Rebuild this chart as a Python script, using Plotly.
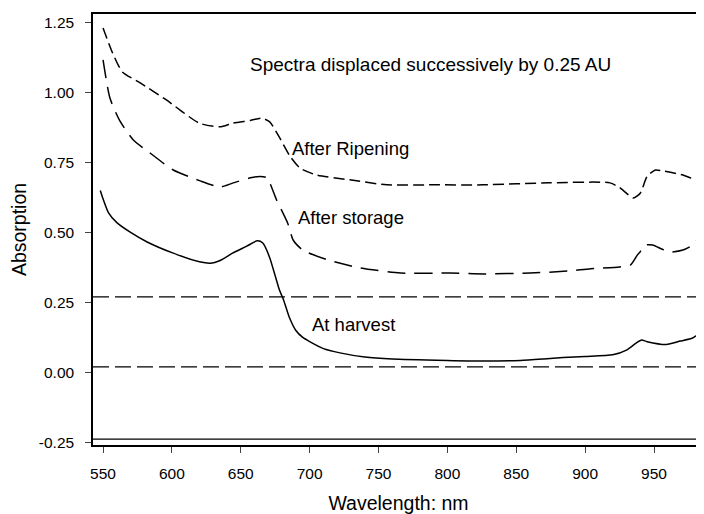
import plotly.graph_objects as go

# ---- data ----
harvest_nm = [548, 550, 554, 560, 570, 582, 601, 620, 628, 635, 644, 654, 662, 666, 671, 678, 681, 685, 690, 695, 700,
              710, 722, 740, 760, 800, 824, 853, 870, 884, 900, 920, 930, 937, 941, 945, 959, 969, 978, 983, 986]
harvest_ab = [0.65, 0.62, 0.57, 0.535, 0.50, 0.466, 0.426, 0.395, 0.39, 0.40, 0.426, 0.45, 0.47, 0.462, 0.41, 0.295,
              0.26, 0.20, 0.15, 0.125, 0.11, 0.085, 0.07, 0.055, 0.048, 0.043, 0.041, 0.043, 0.048, 0.053, 0.057, 0.063,
              0.08, 0.105, 0.116, 0.11, 0.10, 0.112, 0.123, 0.14, 0.152]

storage_nm = [550, 555, 562, 572, 584, 601, 620, 635, 644, 657, 664, 669, 676, 684, 688, 695, 713, 737, 766, 802, 826,
              860, 887, 904, 925, 933, 938, 941, 944, 949, 956, 962, 971, 978, 983, 986]
storage_ab = [1.116, 0.98, 0.90, 0.83, 0.784, 0.723, 0.685, 0.662, 0.676, 0.695, 0.70, 0.695, 0.616, 0.534, 0.473,
              0.437, 0.402, 0.373, 0.355, 0.355, 0.352, 0.355, 0.362, 0.37, 0.377, 0.384, 0.42, 0.437, 0.455, 0.455,
              0.44, 0.43, 0.437, 0.455, 0.484, 0.50]

ripening_nm = [550, 557, 564, 577, 596, 620, 635, 644, 657, 665, 671, 678, 686, 693, 705, 729, 756, 790, 826, 874, 918,
               925, 935, 940, 945, 951, 956, 971, 981, 986]
ripening_ab = [1.23, 1.14, 1.073, 1.034, 0.973, 0.89, 0.877, 0.89, 0.90, 0.908, 0.895, 0.84, 0.77, 0.73, 0.705, 0.688,
               0.67, 0.67, 0.67, 0.677, 0.677, 0.66, 0.623, 0.64, 0.70, 0.723, 0.72, 0.705, 0.688, 0.698]

baseline_levels = [0.02, 0.27]
bottom_level = [-0.238]

x_range = [542.7, 986.3]
y_range = [-0.259, 1.28]
y_ticks = [-0.25, 0.0, 0.25, 0.5, 0.75, 1.0, 1.25]
y_tick_text = ["-0.25", "0.00", "0.25", "0.50", "0.75", "1.00", "1.25"]
x_ticks = [550, 600, 650, 700, 750, 800, 850, 900, 950]

series_labels = ["After Ripening", "After storage", "At harvest"]
label_pos_nm = [686, 690, 700]
label_pos_ab = [0.80, 0.552, 0.17]
note_text = "Spectra displaced successively by 0.25 AU"

FONT = "Liberation Sans, Arial, Helvetica, sans-serif"

fig = go.Figure()

for lv in baseline_levels:
    fig.add_trace(go.Scatter(x=x_range, y=[lv, lv], mode="lines",
                             line=dict(color="black", width=1.3, dash="16px,6px"), hoverinfo="skip"))
for lv in bottom_level:
    fig.add_trace(go.Scatter(x=x_range, y=[lv, lv], mode="lines",
                             line=dict(color="black", width=1.3), hoverinfo="skip"))

fig.add_trace(go.Scatter(x=harvest_nm, y=harvest_ab, mode="lines", line_shape="spline",
                         line=dict(color="black", width=1.5, smoothing=0.6)))
fig.add_trace(go.Scatter(x=storage_nm, y=storage_ab, mode="lines", line_shape="spline",
                         line=dict(color="black", width=1.5, dash="18px,9px", smoothing=0.6)))
fig.add_trace(go.Scatter(x=ripening_nm, y=ripening_ab, mode="lines", line_shape="spline",
                         line=dict(color="black", width=1.5, dash="11px,5px", smoothing=0.6)))

for txt, xn, ya in zip(series_labels, label_pos_nm, label_pos_ab):
    fig.add_annotation(x=xn, y=ya, text=txt, showarrow=False, xanchor="left", yanchor="middle",
                       font=dict(family=FONT, size=18.5, color="black"))

fig.add_annotation(x=655, y=1.098, text=note_text, showarrow=False, xanchor="left", yanchor="middle",
                   font=dict(family=FONT, size=19, color="black"))

# page body has an 8px margin; the figure is sized so that it fills the 704x514 window
fig.update_layout(
    width=696, height=506,
    margin=dict(l=85, r=0, t=6, b=69),
    paper_bgcolor="white", plot_bgcolor="white",
    showlegend=False,
    font=dict(family=FONT, color="black"),
)
fig.update_xaxes(range=x_range, tickvals=x_ticks, ticks="outside", ticklen=6, tickwidth=1.2, automargin=False,
                 showline=True, linecolor="black", linewidth=1.5, mirror=True, showgrid=False, zeroline=False,
                 tickfont=dict(family=FONT, size=15.5, color="black"), ticklabelstandoff=8,
                 title=dict(text="Wavelength: nm", font=dict(family=FONT, size=19.5, color="black"), standoff=16))
fig.update_yaxes(range=y_range, tickvals=y_ticks, ticktext=y_tick_text, ticks="outside", ticklen=6, tickwidth=1.2,
                 automargin=False,
                 showline=True, linecolor="black", linewidth=1.5, showgrid=False, zeroline=False,
                 tickfont=dict(family=FONT, size=15.5, color="black"), ticklabelstandoff=8,
                 title=dict(text="Absorption", font=dict(family=FONT, size=19.5, color="black"), standoff=10))

fig.write_html("out.html")
